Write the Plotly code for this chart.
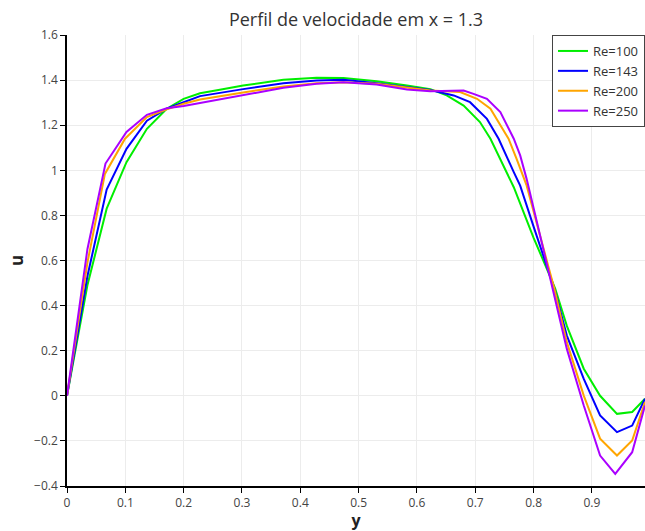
import plotly.graph_objects as go

# Re=100
y_100 = [0, 0.035, 0.068, 0.102, 0.137, 0.171, 0.2, 0.228, 0.262, 0.302, 0.371, 0.428, 0.474, 0.531,
         0.583, 0.623, 0.651, 0.68, 0.708, 0.726, 0.766, 0.8, 0.82, 0.837, 0.857, 0.886, 0.914,
         0.943, 0.969, 0.991]
u_100 = [0, 0.49, 0.83, 1.036, 1.184, 1.273, 1.317, 1.342, 1.357, 1.376, 1.401, 1.41, 1.409, 1.395,
         1.376, 1.36, 1.332, 1.287, 1.214, 1.14, 0.925, 0.70, 0.58, 0.475, 0.31, 0.12, 0.0,
         -0.08, -0.072, -0.013]
# Re=143
y_143 = [0, 0.035, 0.068, 0.102, 0.137, 0.171, 0.2, 0.228, 0.302, 0.371, 0.428, 0.474, 0.531, 0.583,
         0.623, 0.663, 0.691, 0.72, 0.74, 0.766, 0.777, 0.8, 0.835, 0.857, 0.886, 0.914, 0.943, 0.969, 0.991]
u_143 = [0, 0.53, 0.915, 1.095, 1.22, 1.273, 1.302, 1.329, 1.36, 1.386, 1.398, 1.401, 1.386, 1.368,
         1.356, 1.332, 1.302, 1.228, 1.14, 0.992, 0.932, 0.75, 0.48, 0.267, 0.075, -0.087, -0.161, -0.132, -0.013]
# Re=200
y_200 = [0, 0.035, 0.065, 0.0995, 0.137, 0.171, 0.2, 0.228, 0.302, 0.371, 0.428, 0.474, 0.531, 0.583,
         0.623, 0.674, 0.703, 0.726, 0.757, 0.771, 0.788, 0.835, 0.857, 0.886, 0.914, 0.943, 0.969, 0.991]
u_200 = [0, 0.59, 0.984, 1.14, 1.236, 1.27, 1.295, 1.314, 1.345, 1.372, 1.386, 1.39, 1.384, 1.366,
         1.354, 1.347, 1.317, 1.273, 1.14, 1.05, 0.933, 0.48, 0.238, 0.001, -0.19, -0.265, -0.198, -0.028]
# Re=250
y_250 = [0, 0.035, 0.066, 0.102, 0.137, 0.171, 0.2, 0.228, 0.302, 0.371, 0.428, 0.474, 0.531, 0.583,
         0.623, 0.68, 0.697, 0.72, 0.743, 0.766, 0.777, 0.788, 0.803, 0.831, 0.857, 0.886, 0.914, 0.94,
         0.969, 0.991]
u_250 = [0, 0.65, 1.03, 1.17, 1.246, 1.275, 1.285, 1.298, 1.332, 1.366, 1.384, 1.39, 1.38, 1.358,
         1.351, 1.354, 1.339, 1.317, 1.258, 1.14, 1.066, 0.962, 0.8, 0.489, 0.208, -0.043, -0.265, -0.346,
         -0.25, -0.043]

series = [
    ("Re=100", y_100, u_100, "#00ee00"),
    ("Re=143", y_143, u_143, "#0000ff"),
    ("Re=200", y_200, u_200, "#ffa500"),
    ("Re=250", y_250, u_250, "#aa00ff"),
]

x_ticks = [0, 0.1, 0.2, 0.3, 0.4, 0.5, 0.6, 0.7, 0.8, 0.9]
y_ticks = [-0.4, -0.2, 0, 0.2, 0.4, 0.6, 0.8, 1, 1.2, 1.4, 1.6]

fig = go.Figure()
for name, ys, us, col in series:
    fig.add_trace(go.Scatter(x=ys, y=us, mode="lines", name=name,
                             line=dict(color=col, width=2)))

font_family = "Open Sans, Lato, sans-serif"
fig.update_layout(
    width=645, height=531,
    margin=dict(l=67, r=0, t=35, b=45),
    paper_bgcolor="white", plot_bgcolor="white",
    font=dict(family=font_family, color="#333333", size=12),
    title=dict(text="Perfil de velocidade em x = 1.3", x=0.552, xanchor="center",
               y=0.962, yanchor="middle", yref="container",
               font=dict(size=18, color="#333333")),
    legend=dict(x=1, xanchor="right", y=1, yanchor="top",
                bordercolor="#444444", borderwidth=1, bgcolor="white",
                font=dict(size=13, color="#333333"), itemwidth=30,
                tracegroupgap=0),
    showlegend=True,
)
fig.update_xaxes(
    range=[0, 0.991], tickvals=x_ticks, ticks="outside", ticklen=5, tickcolor="black",
    showline=True, linecolor="black", linewidth=1.5,
    showgrid=True, gridcolor="#ececec", zeroline=False,
    title=dict(text="<b>y</b>", font=dict(size=16, color="#222222"), standoff=8),
    tickfont=dict(size=12, color="#444444"),
)
fig.update_yaxes(
    range=[-0.4, 1.6], tickvals=y_ticks, ticks="outside", ticklen=5, tickcolor="black",
    showline=True, linecolor="black", linewidth=1.5,
    showgrid=True, gridcolor="#ececec", zeroline=False,
    title=dict(text="<b>u</b>", font=dict(size=17, color="#222222"), standoff=6),
    tickfont=dict(size=12, color="#444444"),
)

fig.write_html("out.html")
